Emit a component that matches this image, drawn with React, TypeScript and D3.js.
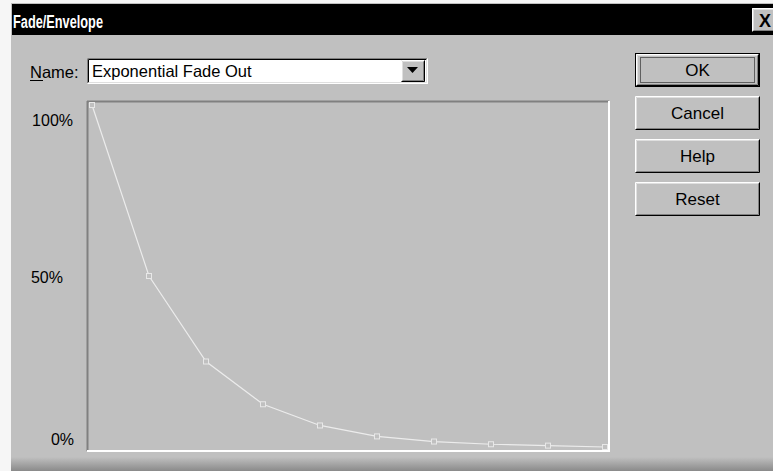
import React from "react";
import * as d3 from "d3";

const stepIndex = [0, 1, 2, 3, 4, 5, 6, 7, 8, 9];
const envelopeValues = [100, 50, 25, 12.5, 6.3, 3.1, 1.6, 0.8, 0.4, 0];
const yTickValues = [100, 50, 0];
const yTickLabels = ["100%", "50%", "0%"];
const buttonLabels = ["OK", "Cancel", "Help", "Reset"];
const dialogTitle = "Fade/Envelope";
const presetName = "Exponential Fade Out";

const W = 773;
const H = 471;
const FACE = "#c0c0c0";
const FONT = "'Liberation Sans', Arial, sans-serif";

// label placement nudges (style, not data)
const labelDX = [73, 63, 74];
const labelDY = [15, 1, -8];

function Bevel({ x, y, w, h, sunken = false }: { x: number; y: number; w: number; h: number; sunken?: boolean }) {
  const light = sunken ? "#808080" : "#ffffff";
  const dark = sunken ? "#ffffff" : "#000000";
  const mid = sunken ? "#000000" : "#808080";
  const innerDark = sunken ? "#dfdfdf" : "#808080";
  return (
    <g>
      <rect x={x} y={y} width={w} height={h} fill={sunken ? "#ffffff" : FACE} />
      <path d={`M${x + 0.5},${y + h - 0.5}V${y + 0.5}H${x + w - 0.5}`} stroke={light} fill="none" />
      <path d={`M${x + 0.5},${y + h - 0.5}H${x + w - 0.5}V${y + 0.5}`} stroke={dark} fill="none" />
      <path d={`M${x + 1.5},${y + h - 1.5}V${y + 1.5}H${x + w - 1.5}`} stroke={sunken ? mid : "#dfdfdf"} fill="none" />
      <path d={`M${x + 1.5},${y + h - 1.5}H${x + w - 1.5}V${y + 1.5}`} stroke={innerDark} fill="none" />
    </g>
  );
}

export default function App() {
  const plot = { left: 87, top: 101, right: 609, bottom: 451 };
  const x = d3.scaleLinear().domain([0, stepIndex.length - 1]).range([92, 605]);
  const y = d3.scaleLinear().domain([0, 100]).range([447, 105]);
  const line = d3
    .line<number>()
    .x((_, i) => x(stepIndex[i]))
    .y((d) => y(d));

  const btnX = 635;
  const btnW = 125;
  const btnH = 34;
  const btnY = d3.scaleLinear().domain([0, 1]).range([53, 96]);

  return (
    <svg
      width={W}
      height={H}
      style={{ position: "absolute", left: 0, top: 0, display: "block" }}
      fontFamily={FONT}
    >
      <defs>
        <linearGradient id="shade" x1="0" y1="0" x2="0" y2="1">
          <stop offset="0" stopColor={FACE} />
          <stop offset="1" stopColor="#8a8a8a" />
        </linearGradient>
      </defs>
      <rect x={0} y={0} width={W} height={H} fill="#f6f6f6" />
      <rect x={11} y={3} width={W - 11} height={H - 3} fill={FACE} />
      <rect x={11} y={457} width={W - 11} height={14} fill="url(#shade)" />
      {/* title bar */}
      <rect x={12} y={4} width={W - 12} height={31} fill="#000000" />
      <text
        x={13}
        y={28}
        fill="#ffffff"
        fontSize={18}
        fontWeight="bold"
        textLength={90}
        lengthAdjust="spacingAndGlyphs"
      >
        {dialogTitle}
      </text>
      <Bevel x={752} y={8} w={24} h={24} />
      <text x={765} y={27} fontSize={18} fontWeight="bold" textAnchor="middle" fill="#000">
        X
      </text>

      {/* Name combobox */}
      <text x={30} y={78} fontSize={16.5} fill="#000">
        Name:
      </text>
      <line x1={30} x2={43} y1={80.5} y2={80.5} stroke="#000" />
      <Bevel x={87} y={58} w={341} h={26} sunken />
      <text x={92} y={77} fontSize={16.5} fill="#000">
        {presetName}
      </text>
      <Bevel x={401} y={60} w={24} h={22} />
      <path d="M407,67h11l-5.5,6z" fill="#000" />

      {/* buttons */}
      {buttonLabels.map((b, i) => {
        const by = btnY(i);
        const isDefault = i === 0;
        return (
          <g key={b}>
            {isDefault ? (
              <>
                <rect x={btnX} y={by} width={btnW} height={btnH} fill="#000" />
                <Bevel x={btnX + 1} y={by + 1} w={btnW - 2} h={btnH - 2} />
                <rect
                  x={btnX + 5.5}
                  y={by + 4.5}
                  width={btnW - 11}
                  height={btnH - 9}
                  fill="none"
                  stroke="#000"
                  strokeDasharray="1,1"
                />
              </>
            ) : (
              <Bevel x={btnX} y={by} w={btnW} h={btnH} />
            )}
            <text x={btnX + btnW / 2} y={by + btnH / 2 + 6} fontSize={17} textAnchor="middle" fill="#000">
              {b}
            </text>
          </g>
        );
      })}

      {/* plot frame */}
      <line x1={plot.left} x2={plot.right} y1={plot.top + 0.5} y2={plot.top + 0.5} stroke="#808080" strokeWidth={2} />
      <line x1={plot.left + 0.5} x2={plot.left + 0.5} y1={plot.top} y2={plot.bottom} stroke="#808080" strokeWidth={2} />
      <line x1={plot.left} x2={plot.right + 1} y1={plot.bottom} y2={plot.bottom} stroke="#ffffff" strokeWidth={2} />
      <line x1={plot.right} x2={plot.right} y1={plot.top} y2={plot.bottom + 1} stroke="#ffffff" strokeWidth={2} />

      {/* y labels */}
      {yTickValues.map((v, i) => (
        <text
          key={v}
          x={labelDX[i]}
          y={y(v) + labelDY[i] + 6}
          fontSize={16}
          textAnchor="end"
          fill="#000"
        >
          {yTickLabels[i]}
        </text>
      ))}

      {/* envelope */}
      <path d={line(envelopeValues) || ""} fill="none" stroke="#ececec" strokeWidth={1.2} />
      {envelopeValues.map((v, i) => (
        <rect
          key={i}
          x={x(stepIndex[i]) - 2.5}
          y={y(v) - 2.5}
          width={5}
          height={5}
          fill={FACE}
          stroke="#e8e8e8"
          strokeWidth={1}
        />
      ))}
    </svg>
  );
}
